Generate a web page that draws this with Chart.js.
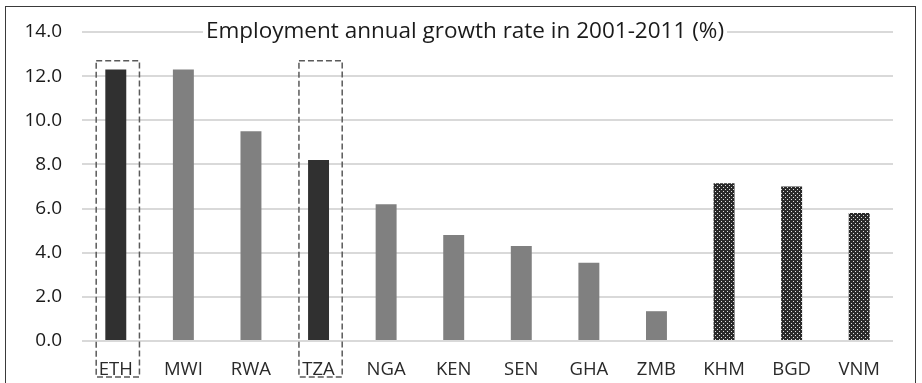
<!DOCTYPE html>
<html>
<head>
<meta charset="utf-8">
<script src="https://cdn.jsdelivr.net/npm/chart.js@4"></script>
<style>
  html, body { margin: 0; padding: 0; background: #fff; }
  #wrap { position: relative; width: 922px; height: 383px; }
  #frame { position: absolute; left: 5px; top: 6px; width: 911px; height: 400px;
           border: 1.5px solid #3a3a3a; box-sizing: border-box; }
  canvas { position: absolute; left: 0; top: 0; }
</style>
</head>
<body>
<div id="wrap">
  <div id="frame"></div>
  <canvas id="grafica" width="922" height="383"></canvas>
</div>
<script>
const paises = ['ETH', 'MWI', 'RWA', 'TZA', 'NGA', 'KEN', 'SEN', 'GHA', 'ZMB', 'KHM', 'BGD', 'VNM'];
const crecimiento = [12.3, 12.3, 9.5, 8.2, 6.2, 4.8, 4.3, 3.55, 1.35, 7.15, 7.0, 5.8];
const grupos = ['foco', 'africa', 'africa', 'foco', 'africa', 'africa', 'africa', 'africa', 'africa', 'asia', 'asia', 'asia'];
const destacados = ['ETH', 'TZA'];
const yTicks = [0, 2, 4, 6, 8, 10, 12, 14];
const titulo = 'Employment annual growth rate in 2001-2011 (%)';

const fuente = "'Open Sans', sans-serif";

// trama de puntos para las barras asiaticas
const crearTrama = () => {
    const c = document.createElement('canvas');
    c.width = 4; c.height = 4;
    const g = c.getContext('2d');
    g.fillStyle = '#2a2a2a';
    g.fillRect(0, 0, 4, 4);
    g.fillStyle = '#e0e0e0';
    g.fillRect(1, 1, 1, 1);
    g.fillRect(3, 3, 1, 1);
    return g.createPattern(c, 'repeat');
};
const trama = crearTrama();

const colores = grupos.map(g => g === 'foco' ? '#303030' : (g === 'africa' ? '#808080' : trama));

const cajasPlugin = {
    id: 'cajas',
    afterDraw(chart) {
        const { ctx, scales: { x, y } } = chart;
        const ancho = x.width / paises.length;
        ctx.save();
        ctx.strokeStyle = '#5a5a5a';
        ctx.lineWidth = 1.5;
        ctx.setLineDash([6, 3]);
        destacados.forEach(p => {
            const cx = x.getPixelForValue(paises.indexOf(p));
            const izq = cx - ancho * 0.29;
            const der = cx + ancho * 0.35;
            const arriba = y.getPixelForValue(12.7);
            const abajo = 377;
            ctx.strokeRect(izq, arriba, der - izq, abajo - arriba);
        });
        ctx.restore();

        // titulo sobre la linea de 14.0
        ctx.save();
        ctx.font = '22.5px ' + fuente;
        const w = ctx.measureText(titulo).width;
        const tx = 465;
        const ty = y.getPixelForValue(14);
        ctx.fillStyle = '#fff';
        ctx.fillRect(tx - w / 2 - 3, ty - 14, w + 6, 28);
        ctx.fillStyle = '#1a1a1a';
        ctx.textAlign = 'center';
        ctx.textBaseline = 'middle';
        ctx.fillText(titulo, tx, ty);
        ctx.restore();
    }
};

const config = {
    type: 'bar',
    data: {
        labels: paises,
        datasets: [{
            data: crecimiento,
            backgroundColor: colores,
            borderWidth: 0,
            categoryPercentage: 1,
            barPercentage: 0.31
        }]
    },
    options: {
        responsive: false,
        animation: false,
        layout: { padding: { left: 0, right: 29, top: 32, bottom: 0 } },
        plugins: {
            legend: { display: false },
            title: { display: false },
            tooltip: { enabled: false }
        },
        scales: {
            x: {
                grid: { display: false, drawTicks: false },
                border: { display: false },
                ticks: { color: '#2a2a2a', font: { family: fuente, size: 18.5 }, padding: 18 },
                afterFit: s => { s.height = 42; }
            },
            y: {
                min: 0,
                max: 14,
                afterBuildTicks: s => { s.ticks = yTicks.map(v => ({ value: v })); },
                grid: { color: '#d9d9d9', lineWidth: 2, drawTicks: false },
                border: { display: false },
                ticks: {
                    color: '#1a1a1a',
                    font: { family: fuente, size: 19 },
                    padding: 20,
                    callback: v => v.toFixed(1)
                },
                afterFit: s => { s.width = 82; }
            }
        }
    },
    plugins: [cajasPlugin]
};

new Chart(document.getElementById('grafica'), config);
</script>
</body>
</html>
